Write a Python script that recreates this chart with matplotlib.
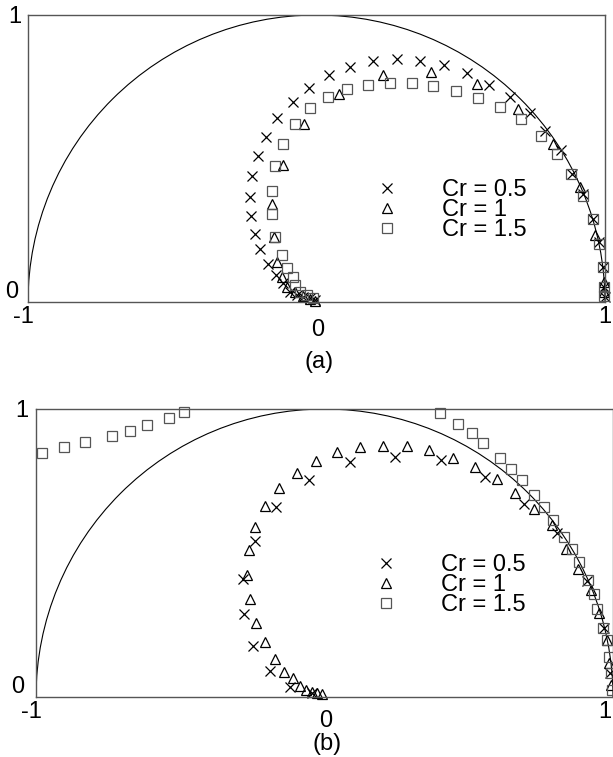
import matplotlib
matplotlib.use("Agg")
import matplotlib.pyplot as plt
from matplotlib.patches import Arc

plt.rcParams.update({
    'font.family': ['Liberation Sans', 'DejaVu Sans'],
    'font.size': 16,
    'figure.facecolor': '1.00',
})

# ---- data (x, y of each marker) ----
tick_labels_x = ["-1", "0", "1"]
tick_labels_y = ["0", "1"]
series_labels = ["Cr = 0.5", "Cr = 1", "Cr = 1.5"]
panel_labels = ["(a)", "(b)"]

a_cr05_x = [-0.005, -0.023, -0.046, -0.069, -0.092, -0.115, -0.140, -0.169, -0.196, -0.213,
            -0.227, -0.230, -0.225, -0.204, -0.175, -0.136, -0.082, -0.025, 0.044, 0.116,
            0.197, 0.278, 0.359, 0.442, 0.521, 0.599, 0.671, 0.740, 0.792, 0.846,
            0.885, 0.923, 0.957, 0.980, 0.992, 0.997, 1.000]
a_cr05_y = [0.007, 0.013, 0.018, 0.024, 0.036, 0.065, 0.094, 0.134, 0.185, 0.238,
            0.298, 0.367, 0.438, 0.510, 0.576, 0.640, 0.698, 0.746, 0.790, 0.819,
            0.839, 0.845, 0.839, 0.825, 0.798, 0.756, 0.714, 0.660, 0.596, 0.530,
            0.446, 0.377, 0.288, 0.209, 0.122, 0.053, 0.017]

a_cr1_x = [-0.005, -0.023, -0.047, -0.075, -0.101, -0.121, -0.136, -0.147, -0.155, -0.117,
           -0.043, 0.079, 0.229, 0.396, 0.557, 0.699, 0.820, 0.913, 0.965, 0.997, 0.997]
a_cr1_y = [0.005, 0.012, 0.021, 0.035, 0.053, 0.088, 0.140, 0.226, 0.340, 0.478,
           0.619, 0.725, 0.790, 0.802, 0.758, 0.671, 0.550, 0.400, 0.232, 0.070, 0.035]

a_cr15_x = [-0.011, -0.034, -0.057, -0.075, -0.082, -0.101, -0.121, -0.144, -0.155, -0.155,
            -0.144, -0.115, -0.075, -0.023, 0.041, 0.107, 0.180, 0.255, 0.330, 0.403,
            0.484, 0.561, 0.636, 0.708, 0.777, 0.833, 0.881, 0.923, 0.957, 0.980,
            0.992, 0.997, 0.998]
a_cr15_y = [0.013, 0.024, 0.036, 0.059, 0.088, 0.117, 0.163, 0.226, 0.305, 0.388,
            0.475, 0.550, 0.619, 0.675, 0.714, 0.741, 0.756, 0.764, 0.764, 0.752,
            0.735, 0.712, 0.679, 0.637, 0.579, 0.515, 0.446, 0.371, 0.288, 0.203,
            0.122, 0.053, 0.021]

b_cr05_x = [-0.043, -0.120, -0.189, -0.247, -0.279, -0.281, -0.241, -0.168, -0.053, 0.088,
            0.244, 0.403, 0.556, 0.692, 0.806, 0.909, 0.969, 0.990]
b_cr05_y = [0.014, 0.036, 0.091, 0.177, 0.288, 0.411, 0.542, 0.660, 0.755, 0.816,
            0.835, 0.824, 0.764, 0.671, 0.568, 0.403, 0.238, 0.082]

b_cr1_x = [-0.009, -0.026, -0.043, -0.064, -0.085, -0.110, -0.139, -0.172, -0.206, -0.237,
           -0.258, -0.268, -0.261, -0.241, -0.206, -0.157, -0.096, -0.029, 0.044, 0.123,
           0.202, 0.285, 0.363, 0.446, 0.522, 0.597, 0.660, 0.726, 0.788, 0.837,
           0.880, 0.923, 0.953, 0.980, 0.987, 0.993]
b_cr1_y = [0.010, 0.014, 0.017, 0.024, 0.038, 0.065, 0.088, 0.131, 0.190, 0.258,
           0.339, 0.425, 0.512, 0.590, 0.662, 0.725, 0.777, 0.819, 0.850, 0.868,
           0.873, 0.870, 0.856, 0.831, 0.798, 0.758, 0.708, 0.654, 0.596, 0.515,
           0.446, 0.371, 0.290, 0.198, 0.117, 0.042]

b_cr15_x = [-0.978, -0.903, -0.830, -0.738, -0.674, -0.616, -0.539, -0.486,
            0.400, 0.464, 0.510, 0.550, 0.608, 0.645, 0.684, 0.727, 0.761, 0.791,
            0.831, 0.857, 0.883, 0.914, 0.934, 0.946, 0.966, 0.978, 0.986, 0.992, 0.997]
b_cr15_y = [0.848, 0.869, 0.887, 0.907, 0.924, 0.943, 0.969, 0.989,
            0.987, 0.949, 0.916, 0.883, 0.831, 0.793, 0.755, 0.700, 0.660, 0.616,
            0.556, 0.515, 0.469, 0.406, 0.359, 0.307, 0.238, 0.198, 0.140, 0.082, 0.024]
# ------------------------------

W, H = 613, 757
SPINE = '#555555'
FS = 17

styles = [
    dict(marker='x', color='black', mec='black'),
    dict(marker='^', color='black', mec='black', mfc='none'),
    dict(marker='s', color='#555555', mec='#555555', mfc='none'),
]


def px_box(left, top, right, bottom):
    return [left / W, (H - bottom) / H, (right - left) / W, (bottom - top) / H]


def draw_panel(ax, series, panel_label, ylab_dx, x_offsets, label_dy, legend_anchor, right_dx):
    ax.add_patch(Arc((0, 0), 2, 2, theta1=0, theta2=180, color='black', lw=0.8))

    handles = []
    for (xs, ys), style, label in zip(series, styles, series_labels):
        line, = ax.plot(xs, ys, linestyle='none', ms=7, mew=0.9, clip_on=False,
                        label=label, **style)
        handles.append(line)

    ax.set_xlim(-1, 1)
    ax.set_ylim(0, 1)
    ax.set_xticks([])
    ax.set_yticks([])
    for sp in ax.spines.values():
        sp.set_color(SPINE)
        sp.set_linewidth(1.0)

    # tick labels written by hand, the middle x label sits lower in the original
    for val, txt, dy in zip([-1, 0, 1], tick_labels_x, x_offsets):
        dx = {-1: -5, 0: 1, 1: right_dx}[val]
        ax.annotate(txt, xy=(val, 0), xytext=(dx, -dy), textcoords='offset pixels',
                    ha='center', va='center', fontsize=FS, annotation_clip=False)
    ax.annotate(tick_labels_y[0], xy=(-1, 0), xytext=(ylab_dx[0], 10), textcoords='offset pixels',
                ha='center', va='center', fontsize=FS, annotation_clip=False)
    ax.annotate(tick_labels_y[1], xy=(-1, 1), xytext=(ylab_dx[1], -2), textcoords='offset pixels',
                ha='center', va='center', fontsize=FS, annotation_clip=False)
    ax.annotate(panel_label, xy=(0, 0), xytext=(3, -label_dy), textcoords='offset pixels',
                ha='center', va='center', fontsize=FS, annotation_clip=False)

    ax.legend(handles=handles, loc='upper left', bbox_to_anchor=legend_anchor,
              frameon=False, fontsize=FS, handlelength=0.95, handletextpad=1.85,
              labelspacing=-0.08, borderpad=0, borderaxespad=0)


fig = plt.figure(figsize=(W / 100, H / 100), dpi=100)
ax_a = fig.add_axes(px_box(28, 15, 605, 302))
ax_b = fig.add_axes(px_box(36, 409, 613, 697))

draw_panel(ax_a, [(a_cr05_x, a_cr05_y), (a_cr1_x, a_cr1_y), (a_cr15_x, a_cr15_y)],
           panel_labels[0], (-16, -13), (15, 28, 15), 60, (0.603, 0.428), 0)
draw_panel(ax_b, [(b_cr05_x, b_cr05_y), (b_cr1_x, b_cr1_y), (b_cr15_x, b_cr15_y)],
           panel_labels[1], (-18, -14), (15, 24, 15), 47, (0.588, 0.497), -8)

fig.savefig("out.png", dpi=100)
